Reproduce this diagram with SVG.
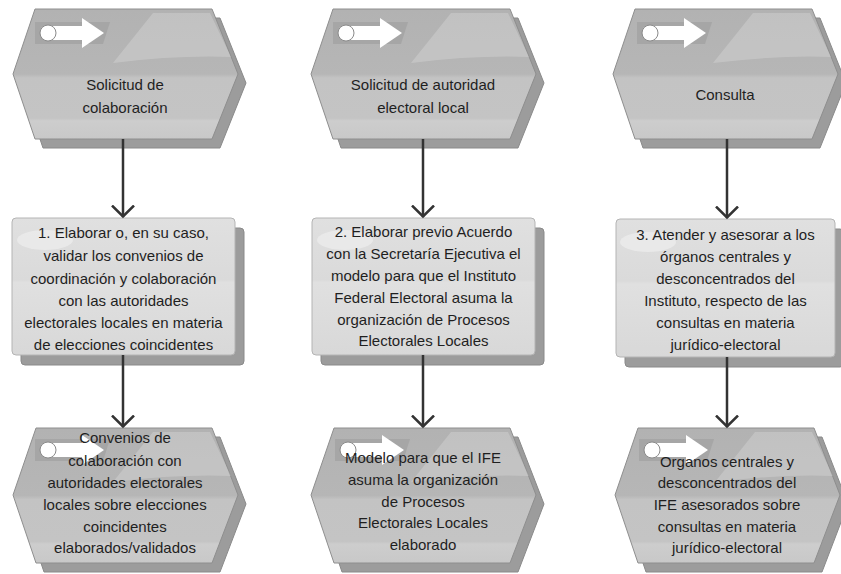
<svg xmlns="http://www.w3.org/2000/svg" xmlns:xlink="http://www.w3.org/1999/xlink" width="841" height="574" viewBox="0 0 841 574">
<style>
.t{font-family:"Liberation Sans",Arial,sans-serif;font-size:15px;fill:#1f1f1f;text-anchor:middle}
.sh{fill:#9c9c9c;stroke:#8a8a8a;stroke-width:1}
.ev{fill:url(#gEv);stroke:#8e8e8e;stroke-width:1}
.fn{fill:url(#gFn);stroke:#b4b4b4;stroke-width:1}
.hl{fill:#ffffff;opacity:0.2}
.c{fill:none;stroke:#333333;stroke-width:2.5;marker-end:url(#arr)}
</style>
<defs>
<linearGradient id="gEv" x1="0" y1="0" x2="0" y2="1">
<stop offset="0" stop-color="#b2b2b2"/>
<stop offset="0.5" stop-color="#b6b6b6"/>
<stop offset="0.53" stop-color="#c3c3c3"/>
<stop offset="0.84" stop-color="#c4c4c4"/>
<stop offset="0.86" stop-color="#cdcdcd"/>
<stop offset="1" stop-color="#c8c8c8"/>
</linearGradient>
<linearGradient id="gFn" x1="0" y1="0" x2="0" y2="1">
<stop offset="0" stop-color="#e0e0e0"/>
<stop offset="0.45" stop-color="#dadada"/>
<stop offset="0.47" stop-color="#e0e0e0"/>
<stop offset="1" stop-color="#d8d8d8"/>
</linearGradient>
<path id="evT" d="M22,0 H199 L225,65 L199,130 H22 L0,65 Z"/>
<path id="evB" d="M23,0 H199 L225,67 L199,135 H23 L0,67 Z"/>
<path id="hlT" d="M100,54 L140,4 H197 L218,48 Q165,46 100,54 Z"/>
<g id="icon">
<path d="M-13,-11 H62 L55,11 H-13 Z" fill="#a6a6a6"/>
<rect x="0" y="-7" width="35" height="14" fill="#ffffff"/>
<path d="M34,-15 L56,0 L34,15 Z" fill="#ffffff"/>
<circle cx="0" cy="0" r="8" fill="#ffffff" stroke="#8a8a8a" stroke-width="1"/>
</g>
<marker id="arr" viewBox="0 0 14 26" refX="12.5" refY="13" markerWidth="14" markerHeight="26" markerUnits="userSpaceOnUse" orient="auto">
<path d="M1,2 L12,13 L1,24" fill="none" stroke="#333333" stroke-width="2.5"/>
</marker>
</defs>

<g id="ev1">
<use xlink:href="#evT" x="21" y="18" class="sh"/>
<use xlink:href="#evT" x="13" y="9" class="ev"/>
<use xlink:href="#hlT" x="13" y="9" class="hl"/>
<use xlink:href="#icon" x="48" y="33"/>
<text class="t" x="125" y="90">Solicitud de</text>
<text class="t" x="125" y="113">colaboración</text>
</g>
<g id="ev2">
<use xlink:href="#evT" x="319" y="18" class="sh"/>
<use xlink:href="#evT" x="311" y="9" class="ev"/>
<use xlink:href="#hlT" x="311" y="9" class="hl"/>
<use xlink:href="#icon" x="346" y="33"/>
<text class="t" x="423" y="90">Solicitud de autoridad</text>
<text class="t" x="423" y="113">electoral local</text>
</g>
<g id="ev3">
<use xlink:href="#evT" x="621" y="18" class="sh"/>
<use xlink:href="#evT" x="613" y="9" class="ev"/>
<use xlink:href="#hlT" x="613" y="9" class="hl"/>
<use xlink:href="#icon" x="650" y="33"/>
<text class="t" x="725" y="100">Consulta</text>
</g>

<g id="fn1">
<rect x="21" y="228" width="223" height="137" rx="4" class="sh"/>
<rect x="12" y="218" width="223" height="137" rx="4" class="fn"/>
<ellipse cx="45" cy="240" rx="28" ry="10" fill="#ffffff" opacity="0.35"/>
<text class="t" x="123.5" y="238">1. Elaborar o, en su caso,</text>
<text class="t" x="123.5" y="261">validar los convenios de</text>
<text class="t" x="123.5" y="284">coordinación y colaboración</text>
<text class="t" x="123.5" y="306">con las autoridades</text>
<text class="t" x="123.5" y="328">electorales locales en materia</text>
<text class="t" x="123.5" y="350">de elecciones coincidentes</text>
</g>
<g id="fn2">
<rect x="321" y="228" width="223" height="137" rx="4" class="sh"/>
<rect x="312" y="218" width="223" height="137" rx="4" class="fn"/>
<ellipse cx="345" cy="240" rx="28" ry="10" fill="#ffffff" opacity="0.35"/>
<text class="t" x="423.5" y="237">2. Elaborar previo Acuerdo</text>
<text class="t" x="423.5" y="259">con la Secretaría Ejecutiva el</text>
<text class="t" x="423.5" y="281">modelo para que el Instituto</text>
<text class="t" x="423.5" y="303">Federal Electoral asuma la</text>
<text class="t" x="423.5" y="325">organización de Procesos</text>
<text class="t" x="423.5" y="346">Electorales Locales</text>
</g>
<g id="fn3">
<rect x="625" y="229" width="219" height="138" rx="4" class="sh"/>
<rect x="616" y="219" width="219" height="138" rx="4" class="fn"/>
<ellipse cx="648" cy="242" rx="28" ry="10" fill="#ffffff" opacity="0.35"/>
<text class="t" x="725.5" y="240">3. Atender y asesorar a los</text>
<text class="t" x="725.5" y="262">órganos centrales y</text>
<text class="t" x="725.5" y="284">desconcentrados del</text>
<text class="t" x="725.5" y="306">Instituto, respecto de las</text>
<text class="t" x="725.5" y="328">consultas en materia</text>
<text class="t" x="725.5" y="350">jurídico-electoral</text>
</g>

<g id="ev4">
<use xlink:href="#evB" x="21" y="437" class="sh"/>
<use xlink:href="#evB" x="13" y="428" class="ev"/>
<use xlink:href="#hlT" x="13" y="428" class="hl"/>
<use xlink:href="#icon" x="48" y="450"/>
<text class="t" x="125" y="443">Convenios de</text>
<text class="t" x="125" y="466">colaboración con</text>
<text class="t" x="125" y="488">autoridades electorales</text>
<text class="t" x="125" y="510">locales sobre elecciones</text>
<text class="t" x="125" y="532">coincidentes</text>
<text class="t" x="125" y="553">elaborados/validados</text>
</g>
<g id="ev5">
<use xlink:href="#evB" x="319" y="437" class="sh"/>
<use xlink:href="#evB" x="311" y="428" class="ev"/>
<use xlink:href="#hlT" x="311" y="428" class="hl"/>
<use xlink:href="#icon" x="348" y="450"/>
<text class="t" x="423" y="463">Modelo para que el IFE</text>
<text class="t" x="423" y="485">asuma la organización</text>
<text class="t" x="423" y="507">de Procesos</text>
<text class="t" x="423" y="528">Electorales Locales</text>
<text class="t" x="423" y="550">elaborado</text>
</g>
<g id="ev6">
<use xlink:href="#evB" x="623" y="437" class="sh"/>
<use xlink:href="#evB" x="615" y="428" class="ev"/>
<use xlink:href="#hlT" x="615" y="428" class="hl"/>
<use xlink:href="#icon" x="652" y="450"/>
<text class="t" x="727" y="467">Organos centrales y</text>
<text class="t" x="727" y="488">desconcentrados del</text>
<text class="t" x="727" y="510">IFE asesorados sobre</text>
<text class="t" x="727" y="532">consultas en materia</text>
<text class="t" x="727" y="553">jurídico-electoral</text>
</g>

<g id="connectors">
<path class="c" d="M123,139 V217"/>
<path class="c" d="M423,139 V217"/>
<path class="c" d="M727,139 V218"/>
<path class="c" d="M123,355 V427"/>
<path class="c" d="M423,355 V427"/>
<path class="c" d="M727,357 V427"/>
</g>
</svg>
